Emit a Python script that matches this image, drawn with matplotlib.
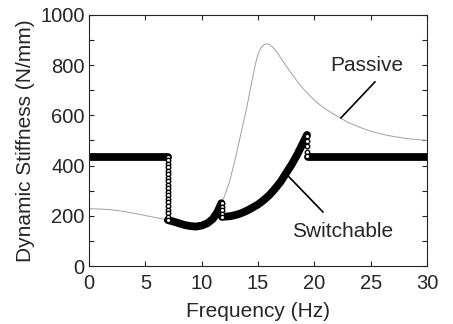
import numpy as np
import matplotlib.pyplot as plt
from matplotlib.ticker import MultipleLocator

plt.rcParams['font.family'] = ['Liberation Sans', 'DejaVu Sans']

# passive mount
f_passive = [0, 1, 2, 3, 4, 5, 6, 7, 8, 8.5, 9, 9.5, 10, 10.5, 11, 11.5, 12, 12.5,
             13, 13.5, 14, 14.5, 14.75, 15, 15.25, 15.5, 15.8, 16, 16.25, 16.5, 16.75,
             17, 17.5, 18, 18.5, 19, 19.5, 20, 20.5, 21, 22, 23, 24, 25, 26, 27, 28,
             29, 30]
k_passive = [228, 227, 224, 218, 210, 201, 192, 184, 170, 163, 159, 157, 161, 170,
             190, 228, 275, 340, 430, 530, 630, 745, 800, 843, 868, 881, 885, 882,
             874, 862, 847, 830, 797, 765, 735, 707, 683, 661, 642, 625, 597, 572,
             553, 537, 525, 516, 509, 504, 500]

# stiff state, only visible above the switchable line at high frequency
f_stiff = [19.3, 22, 25, 28, 30]
k_stiff = [447, 447, 447, 447, 447]

# switchable mount, piecewise
f_sw_a = [0, 2, 4, 6, 6.98]
k_sw_a = [435, 435, 435, 435, 435]
f_sw_b = [7.0, 7.5, 8, 8.5, 9, 9.5, 10, 10.5, 11, 11.4, 11.75]
k_sw_b = [183, 177, 170, 163, 159, 157, 161, 170, 188, 215, 250]
f_sw_c = [11.8, 12.5, 13, 13.5, 14, 14.5, 15, 15.5, 16, 16.5, 17, 17.5, 18, 18.5, 19, 19.35]
k_sw_c = [196, 198, 203, 210, 220, 232, 245, 262, 282, 307, 335, 370, 405, 445, 490, 522]
f_sw_d = [19.4, 22, 25, 28, 30.1]
k_sw_d = [435, 435, 435, 435, 435]

# switching transitions (open circles)
k_drop1 = [435, 421, 407, 393, 379, 365, 351, 337, 323, 309, 295, 281, 267, 253,
           239, 225, 211, 197, 185]
k_drop2 = [250, 236, 222, 208, 196]
k_drop3 = [518, 497, 476, 455, 437]

# leader lines for the labels
lead_passive_f = [25.38, 22.37]
lead_passive_k = [733, 590]
lead_switch_f = [20.77, 17.75]
lead_switch_k = [215, 355]

fig = plt.figure(figsize=(4.53, 3.24), dpi=100)
ax = fig.add_axes([0.1965, 0.179, 0.746, 0.775])

ax.plot(f_passive, k_passive, color='#a0a0a0', lw=0.7)
ax.plot(f_stiff, k_stiff, color='#a0a0a0', lw=0.7)

for fx, ky in [(f_sw_a, k_sw_a), (f_sw_b, k_sw_b), (f_sw_c, k_sw_c), (f_sw_d, k_sw_d)]:
    ax.plot(fx, ky, color='black', lw=5.6, solid_capstyle='round', solid_joinstyle='round')

mk = dict(ls='none', marker='o', ms=3.2, mfc='white', mec='black', mew=1.0)
ax.plot([6.98] * len(k_drop1), k_drop1, **mk)
ax.plot([11.77] * len(k_drop2), k_drop2, **mk)
ax.plot([19.37] * len(k_drop3), k_drop3, **mk)

tc = '#262626'
ax.plot(lead_passive_f, lead_passive_k, color='black', lw=1.2)
ax.plot(lead_switch_f, lead_switch_k, color='black', lw=1.2)
ax.text(24.7, 797, 'Passive', color=tc, fontsize=15, ha='center', va='center')
ax.text(22.5, 139, 'Switchable', color=tc, fontsize=15, ha='center', va='center')

ax.set_xlim(0, 30)
ax.set_ylim(0, 1000)
ax.xaxis.set_major_locator(MultipleLocator(5))
ax.yaxis.set_major_locator(MultipleLocator(200))
ax.yaxis.set_minor_locator(MultipleLocator(100))
ax.tick_params(which='both', direction='in', top=True, right=True, length=3.5,
               width=0.8, colors=tc, labelsize=14.5)
ax.tick_params(axis='x', pad=6)
ax.tick_params(axis='y', pad=3)
for s in ax.spines.values():
    s.set_color(tc)
    s.set_linewidth(0.8)

ax.set_xlabel('Frequency (Hz)', fontsize=15, color=tc, labelpad=6)
ax.set_ylabel('Dynamic Stiffness (N/mm)', fontsize=15, color=tc, labelpad=4)

fig.savefig('out.png', dpi=100)
